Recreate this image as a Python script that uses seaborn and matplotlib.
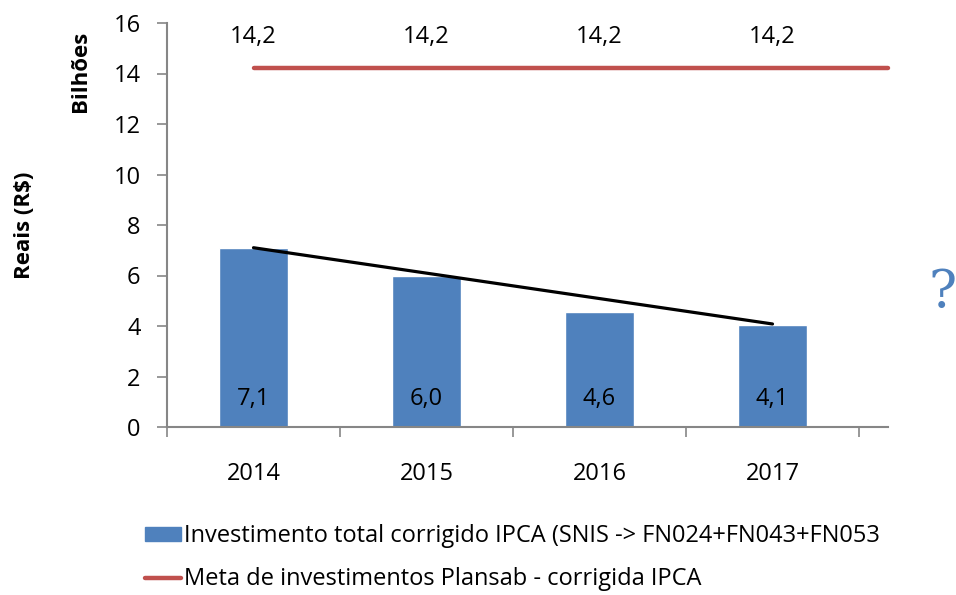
import numpy as np
import pandas as pd
import seaborn as sns
import matplotlib.pyplot as plt
from matplotlib.patches import Patch
from matplotlib.lines import Line2D

# data (billions of R$)
anos = ['2014', '2015', '2016', '2017']
investimento = [7.1, 6.0, 4.55, 4.05]
investimento_lbl = ['7,1', '6,0', '4,6', '4,1']
meta = [14.2, 14.2, 14.2, 14.2]
meta_lbl = ['14,2', '14,2', '14,2', '14,2']
tendencia = [7.1, 4.08]   # trend line, first and last year

azul = '#4F81BD'
vermelho = '#C0504D'
cinza = '#868686'

sns.set_theme(style='white', rc={'text.color': 'black', 'xtick.labelcolor': 'black',
                                 'ytick.labelcolor': 'black'})
plt.rcParams['font.family'] = ['Open Sans', 'DejaVu Sans']

fig = plt.figure(figsize=(9.56, 5.95), dpi=100)
ax = fig.add_axes([167/956, 1 - 427/595, (888-167)/956, (427-23)/595])

df = pd.DataFrame({'ano': anos, 'valor': investimento})
sns.barplot(data=df, x='ano', y='valor', color=azul, saturation=1, width=0.4, ax=ax)

xmax = (888 - 167) / 173 - 0.5
ax.set_xlim(-0.5, xmax)
ax.set_ylim(0, 16)

fs = 17

# meta line, runs to the right edge of the plot
ax.plot([0, xmax], [meta[0], meta[-1]], color=vermelho, lw=3.2, solid_capstyle='round', clip_on=False)
for i, t in enumerate(meta_lbl):
    ax.text(i, 15.45, t, ha='center', va='center', fontsize=fs)

# trend line
ax.plot([0, len(anos) - 1], tendencia, color='black', lw=2.3)

for i, t in enumerate(investimento_lbl):
    ax.text(i, 1.1, t, ha='center', va='center', fontsize=fs)

ax.set_yticks(np.arange(0, 17, 2))
ax.set_xticks(range(len(anos)))
ax.set_xticklabels(anos)
ax.set_xticks(np.arange(-0.5, len(anos)), minor=True)
ax.tick_params(axis='x', which='major', length=0, pad=25, labelsize=fs)
ax.tick_params(axis='x', which='minor', length=7, width=1.2, color=cinza, bottom=True)
ax.tick_params(axis='y', length=7, width=1.2, color=cinza, left=True, labelsize=fs, pad=12)
ax.set_xlabel('')
ax.set_ylabel('')
for s in ['top', 'right']:
    ax.spines[s].set_visible(False)
for s in ['left', 'bottom']:
    ax.spines[s].set_color(cinza)
    ax.spines[s].set_linewidth(1.5)

fig.text(25/956, 1 - 225/595, 'Reais (R$)', rotation=90, ha='center', va='center',
         fontsize=16, fontweight='bold')
fig.text(80/956, 1 - 71/595, 'Bilhões', rotation=90, ha='center', va='center',
         fontsize=16, fontweight='bold')

fig.text(928/956, 1 - 292/595, '?', ha='left', va='center', fontsize=38,
         color=azul, family='DejaVu Serif')

handles = [Patch(facecolor=azul, edgecolor=azul),
           Line2D([0], [0], color=vermelho, lw=3.2)]
labels = ['Investimento total corrigido IPCA (SNIS -> FN024+FN043+FN053',
          'Meta de investimentos Plansab - corrigida IPCA']
fig.legend(handles, labels, loc='upper left', bbox_to_anchor=(136/956, 1 - 515/595),
           frameon=False, fontsize=17, handlelength=1.5, handleheight=0.55,
           handletextpad=0.15, labelspacing=0.8, borderaxespad=0)

fig.savefig('out.png', dpi=100)
